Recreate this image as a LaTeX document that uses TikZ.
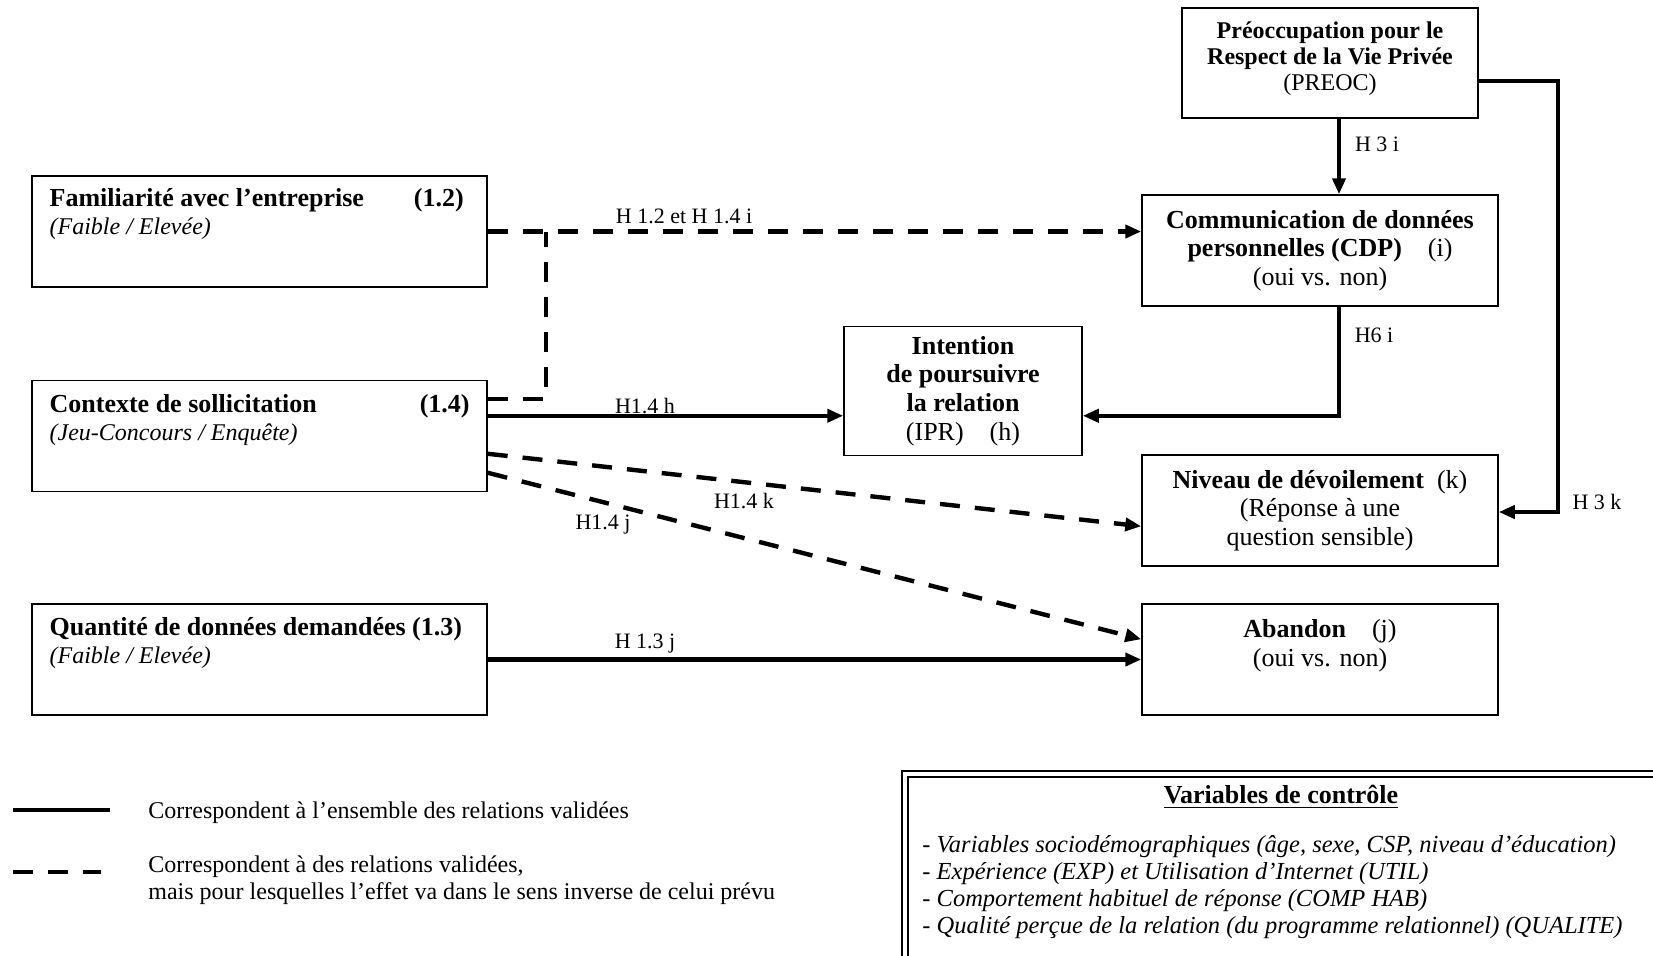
\documentclass[tikz,border=0pt]{standalone}
\usepackage{fontspec}
\setmainfont{Liberation Serif}
\usetikzlibrary{arrows.meta, positioning, calc}

\begin{document}
\begin{tikzpicture}[
  x=0.5pt, y=-0.5pt,
  font=\fontsize{12}{13.5}\selectfont,
  box/.style={draw, line width=0.75pt, inner sep=0pt, align=center,
              font=\fontsize{13}{14.3}\selectfont},
  lbox/.style={box, minimum width=227.5pt, minimum height=55.5pt},
  rbox/.style={box, minimum width=178pt, minimum height=55.5pt},
  txt/.style={inner sep=0pt, align=left},
  ltxt/.style={txt, font=\fontsize{13}{14}\selectfont},
  lbl/.style={inner sep=0pt, font=\fontsize{11}{13}\selectfont},
  arr/.style={-{Triangle[length=8pt,width=6.5pt]}, line width=2.2pt},
  darr/.style={arr, dash pattern=on 10pt off 7.5pt},
  dline/.style={line width=2.2pt, dash pattern=on 10pt off 7.5pt}
]
  \useasboundingbox (0,0) rectangle (1653,955);
  \clip (0,0) rectangle (1653,955);

  % left side: the three manipulated factors
  \node[lbox] (fam) at (259.5,231.5) {};
  \node[lbox] (ctx) at (259.5,436) {};
  \node[lbox] (qty) at (259.5,659.5) {};
  \node[ltxt, anchor=north west] (famtxt) at ($(fam.north west)+(18,13)$)
    {\makebox[207pt][l]{\textbf{Familiarité avec l’entreprise}\hfill\textbf{(1.2)}}\\
     {\fontsize{12}{14}\selectfont\itshape (Faible / Elevée)}};
  \node[ltxt, anchor=north west] (ctxtxt) at ($(ctx.north west)+(18,14)$)
    {\makebox[210pt][l]{\textbf{Contexte de sollicitation}\hfill\textbf{(1.4)}}\\
     {\fontsize{12}{14}\selectfont\itshape (Jeu-Concours / Enquête)}};
  \node[ltxt, anchor=north west] (qtytxt) at ($(qty.north west)+(18,14)$)
    {\textbf{Quantité de données demandées (1.3)}\\
     {\fontsize{12}{14}\selectfont\itshape (Faible / Elevée)}};

  % right side: dependent variables
  \node[box, minimum width=119pt, minimum height=64.5pt] (ipr) at (963,391)
    {\textbf{Intention}\\\textbf{de poursuivre}\\\textbf{la relation}\\(IPR)\quad(h)};
  \node[box, minimum width=148pt, minimum height=55pt,
        font=\fontsize{12}{13}\selectfont] (preoc) at (1330,63)
    {\textbf{Préoccupation pour le}\\\textbf{Respect de la Vie Privée}\\(PREOC)\\[-6pt]\mbox{}};
  \node[rbox] (cdp) at (1320,250.5)
    {\textbf{Communication de données}\\\textbf{personnelles (CDP)}\quad(i)\\(oui vs. non)};
  \node[rbox] (niv) at (1320,510.5)
    {\textbf{Niveau de dévoilement}\enspace(k)\\(Réponse à une\\question sensible)};
  \node[rbox] (aband) at (1320,659.5)
    {\textbf{Abandon}\quad(j)\\(oui vs. non)\\[2pt]\mbox{}};

  % connectors
  \coordinate (jn) at (546,232);
  \coordinate (c1) at ($(ctx.north east)+(0,36)$);
  \coordinate (c2) at ($(cdp.south)+(19,0)$);
  \coordinate (rt) at (1558,512);
  \draw[darr] (fam.east) -- (fam.east -| cdp.west);
  \draw[dline] ($(ctx.north east)+(0,19)$) -| (jn);
  \draw[arr] (c1) -- (c1 -| ipr.west);
  \draw[arr] (c2) |- (c1 -| ipr.east);
  \draw[arr] (c2 |- preoc.south) -- (c2 |- cdp.north);
  \draw[arr] ($(preoc.east)+(0,18)$) -| (rt) -- (rt -| niv.east);
  \draw[darr] ($(ctx.north east)+(0,74)$) -- ($(niv.north west)+(0,72)$);
  \draw[darr] ($(ctx.north east)+(0,93)$) -- ($(aband.north west)+(0,36)$);
  \draw[arr] (qty) -- (aband);

  % hypothesis labels
  \node[lbl] (h12) at (684,216) {H 1.2 et H 1.4 i};
  \node[lbl] (h14h) at (645,406) {H1.4 h};
  \node[lbl] (h14k) at (744,501) {H1.4 k};
  \node[lbl] (h14j) at (603,525) {H1.4 j};
  \node[lbl] (h13j) at (645,644) {H 1.3 j};
  \node[lbl] (h3i) at (1377,144) {H 3 i};
  \node[lbl] (h6i) at (1374,335) {H6 i};
  \node[lbl] (h3k) at (1597,502) {H 3 k};

  % legend
  \coordinate (lga) at (13,810);
  \coordinate (lgb) at (110,810);
  \coordinate (lgc) at (13,872);
  \coordinate (lgd) at (101,872);
  \draw[line width=2.2pt] (lga) -- (lgb);
  \draw[dline] (lgc) -- (lgd);
  \node[txt, anchor=west] (lgtxt1) at (148,813)
    {Correspondent à l’ensemble des relations validées};
  \node[txt, anchor=west] (lgtxt2) at (148,880)
    {Correspondent à des relations validées,\\
     mais pour lesquelles l’effet va dans le sens inverse de celui prévu};

  % control variables
  \node[draw, line width=1pt, double, double distance=2pt, anchor=north west,
        minimum width=398pt, minimum height=113.5pt] (ctrl) at (904,773) {};
  \node[inner sep=0pt, font=\fontsize{13}{14}\selectfont] (ctrltitle) at (1281,797)
    {\textbf{\underline{Variables de contrôle}}};
  \node[txt, anchor=west, font=\fontsize{12.25}{13.5}\selectfont\itshape] (ctrlitems) at (922,887.5)
    {- Variables sociodémographiques (âge, sexe, CSP, niveau d’éducation)\\
     - Expérience (EXP) et Utilisation d’Internet (UTIL)\\
     - Comportement habituel de réponse (COMP HAB)\\
     - Qualité perçue de la relation (du programme relationnel) (QUALITE)};
\end{tikzpicture}
\end{document}
